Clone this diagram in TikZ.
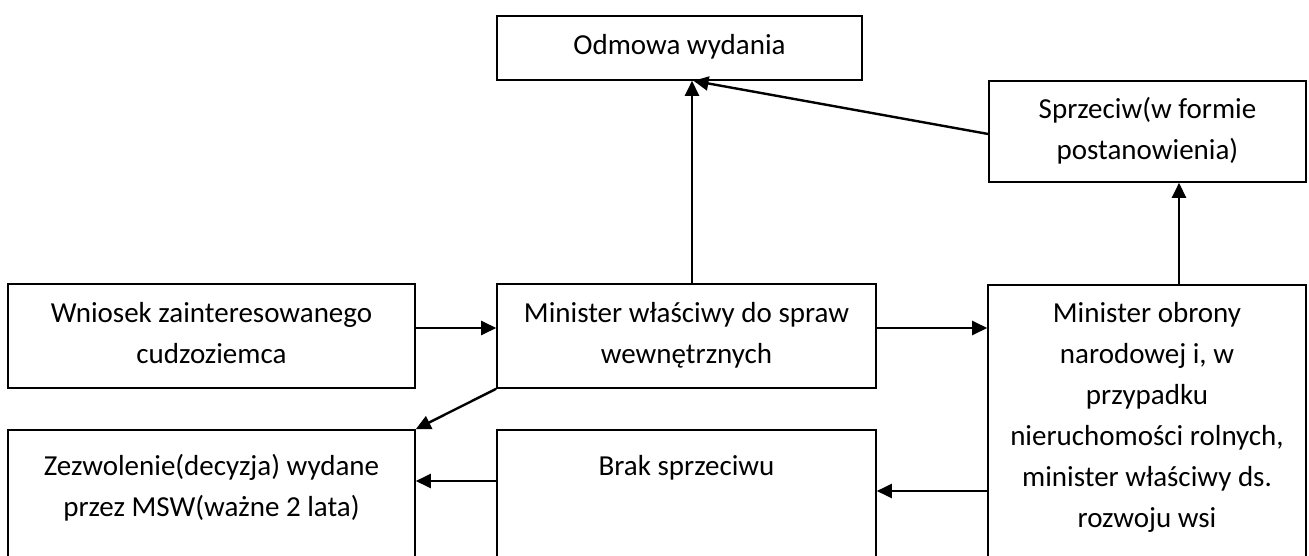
\documentclass[tikz,border=0pt]{standalone}
\usepackage{fontspec}
\setmainfont{Carlito}
\usetikzlibrary{arrows.meta,calc}
\newcommand\tlines[1]{\begin{tabular}[t]{@{}c@{}}#1\end{tabular}}
\begin{document}
\begin{tikzpicture}[x=1pt,y=-1pt,
  box/.style={draw, line width=1.6pt, rectangle, inner sep=0pt},
  arr/.style={line width=2.4pt, -{Triangle[length=15pt,width=14pt]}},
  lbl/.style={anchor=base, inner sep=0pt, font=\fontsize{29}{41}\selectfont}]
\useasboundingbox[fill=white] (0,0) rectangle (1309,556);
% boxes
\node[box, minimum width=365pt, minimum height=64pt] (odm) at (679.5,48) {};
\node[box, minimum width=317pt, minimum height=101pt] (sprz) at (1147.5,131.5) {};
\node[box, minimum width=407pt, minimum height=104pt] (wn) at (211.5,336) {};
\node[box, minimum width=379pt, minimum height=104pt] (min) at (686.5,336) {};
\node[box, minimum width=318pt, minimum height=277pt] (obr) at (1147,423.5) {};
\node[box, minimum width=407pt, minimum height=132pt] (zez) at (211.5,496) {};
\node[box, minimum width=379pt, minimum height=132pt] (brak) at (686.5,496) {};
% texts
\node[lbl] (t-odm) at (679.5,55) {Odmowa wydania};
\node[lbl] (t-sprz) at (1147.5,119) {\tlines{Sprzeciw(w formie\\postanowienia)}};
\node[lbl] (t-wn) at (211.5,322) {\tlines{Wniosek zainteresowanego\\cudzoziemca}};
\node[lbl] (t-min) at (686.5,322) {\tlines{Minister właściwy do spraw\\wewnętrznych}};
\node[lbl] (t-obr) at (1147,322) {\tlines{Minister obrony\\narodowej i, w\\przypadku\\nieruchomości rolnych,\\minister właściwy ds.\\rozwoju wsi}};
\node[lbl] (t-zez) at (211.5,475) {\tlines{Zezwolenie(decyzja) wydane\\przez MSW(ważne 2 lata)}};
\node[lbl] (t-brak) at (686.5,475) {Brak sprzeciwu};
% connectors
\draw[arr] ([yshift=8pt]wn.east) coordinate (p1) -- (min.west |- p1);
\draw[arr] ([yshift=8pt]min.east) coordinate (p2) -- (obr.west |- p2);
\draw[arr] ([xshift=5.5pt]min.north) coordinate (p3) -- (odm.south -| p3);
\draw[arr] ([yshift=-2.5pt]sprz.west) -- ($(odm.south -| p3)+(1.5,0)$);
\draw[arr] ([xshift=32pt]obr.north) coordinate (p4) -- (sprz.south -| p4);
\draw[arr] (min.south west) -- (zez.north east);
\draw[arr] ([yshift=-67.5pt]obr.west) coordinate (p5) -- (brak.east |- p5);
\draw[arr] ([yshift=15pt]brak.west) coordinate (p6) -- (zez.east |- p6);
\end{tikzpicture}
\end{document}
